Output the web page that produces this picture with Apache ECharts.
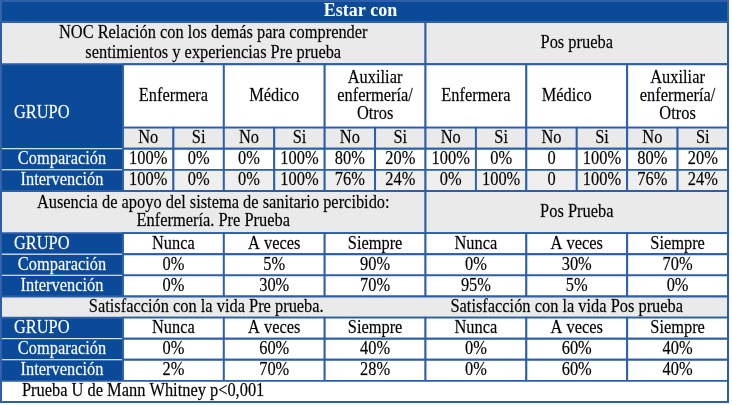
<!DOCTYPE html>
<html><head><meta charset="utf-8">
<script src="https://cdn.jsdelivr.net/npm/echarts@6/dist/echarts.min.js"></script>
<style>html,body{margin:0;padding:0;background:#fff}#c{width:732px;height:405px}</style>
</head><body><div id="c"></div>
<script>
// ---- table content ----
const title = 'Estar con';
const relPreTitle = 'NOC Relación con los demás para comprender\nsentimientos y experiencias Pre prueba';
const relPosTitle = 'Pos prueba';
const roles = ['Enfermera', 'Médico', 'Auxiliar\nenfermería/\nOtros'];
const yesNo = ['No', 'Si'];
const groups = ['Comparación', 'Intervención'];
const groupHeader = 'GRUPO';
const relPre = [['100%','0%','0%','100%','80%','20%'], ['100%','0%','0%','100%','76%','24%']];
const relPos = [['100%','0%','0','100%','80%','20%'], ['0%','100%','0','100%','76%','24%']];
const apoyoPreTitle = 'Ausencia de apoyo del sistema de sanitario percibido:\nEnfermería. Pre Prueba';
const apoyoPosTitle = 'Pos Prueba';
const frequency = ['Nunca', 'A veces', 'Siempre'];
const apoyoPre = [['0%','5%','90%'], ['0%','30%','70%']];
const apoyoPos = [['0%','30%','70%'], ['95%','5%','0%']];
const satPreTitle = 'Satisfacción con la vida Pre prueba.';
const satPosTitle = 'Satisfacción con la vida Pos prueba';
const satPre = [['0%','60%','40%'], ['2%','70%','28%']];
const satPos = [['0%','60%','40%'], ['0%','60%','40%']];
const note = 'Prueba U de Mann Whitney p<0,001';

// ---- layout (in column / row units) ----
const G = 2.42, HALF = 6, W = G + 2 * HALF, ROWS = 19;
const DARK = '#0B4A99', GRAY = '#EAEAEA', LIGHT = '#EFEFEF', WHITE = '#FFFFFF', BORDER = '#2D5EA8';
const FONT = '16.4px "Liberation Serif", "Times New Roman", serif';
const TITLE_FONT = 'bold 18px "Liberation Serif", "Times New Roman", serif';
const STRETCH = 1.14;
const cells = [];
function cell(x0, x1, y0, y1, text, opt) {
  cells.push(Object.assign({x0, x1, y0, y1, text, fill: WHITE, align: 'center', pad: 13, dy: 0, dx: 0, lh: 19}, opt || {}));
}
const dark = {fill: DARK, color: '#fff'};

cell(0, W, 0, 1, title, {fill: DARK, color: '#fff', bold: true, dx: -4});
cell(0, G + HALF, 1, 3, relPreTitle, {fill: GRAY, lh: 20});
cell(G + HALF, W, 1, 3, relPosTitle, {fill: GRAY});
cell(0, G, 3, 7, groupHeader, Object.assign({align: 'left', dy: 7}, dark));
[0, 1].forEach(h => roles.forEach((r, k) => {
  const x = G + h * HALF + 2 * k;
  cell(x, x + 2, 3, 6, r, {lh: 18, dx: (h === 1 && k === 1) ? -10 : 0});
  yesNo.forEach((a, j) => cell(x + j, x + j + 1, 6, 7, a, {fill: GRAY}));
}));
groups.forEach((g, i) => {
  const yy = 7 + i;
  cell(0, G, yy, yy + 1, g, dark);
  [relPre[i], relPos[i]].forEach((row, h) => row.forEach((v, j) => {
    const x = G + h * HALF + j;
    cell(x, x + 1, yy, yy + 1, v, {fill: i ? LIGHT : WHITE});
  }));
});

function freqBlock(y0, pre, pos) {
  cell(0, G, y0, y0 + 1, groupHeader, Object.assign({align: 'left'}, dark));
  [0, 1].forEach(h => frequency.forEach((f, j) => {
    const x = G + h * HALF + 2 * j;
    cell(x, x + 2, y0, y0 + 1, f);
  }));
  groups.forEach((g, i) => {
    const yy = y0 + 1 + i;
    cell(0, G, yy, yy + 1, g, dark);
    [pre[i], pos[i]].forEach((row, h) => row.forEach((v, j) => {
      const x = G + h * HALF + 2 * j;
      cell(x, x + 2, yy, yy + 1, v);
    }));
  });
}
cell(0, G + HALF, 9, 11, apoyoPreTitle, {fill: GRAY, lh: 18.5});
cell(G + HALF, W, 9, 11, apoyoPosTitle, {fill: GRAY});
freqBlock(11, apoyoPre, apoyoPos);
cell(0, W, 14, 15, '', {fill: GRAY});
cell(0, G + HALF, 14, 15, satPreTitle, {fill: null, dx: -7});
cell(G + HALF, W, 14, 15, satPosTitle, {fill: null, dx: -10});
freqBlock(15, satPre, satPos);
cell(0, W, 18, 19, note, {align: 'left', pad: 21});
cell(0, W, 0, ROWS, '', {fill: null, outline: true});

function rank(c) { return c.outline ? 3 : c.fill === DARK ? 0 : c.fill ? 1 : 2; }
const order = cells.map((c, i) => i).sort((a, b) => rank(cells[a]) - rank(cells[b]) || a - b);
const data = order.map(i => [cells[i].x0, cells[i].x1, cells[i].y0, cells[i].y1, i]);

const chart = echarts.init(document.getElementById('c'), null, {renderer: 'canvas'});
chart.setOption({
  animation: false,
  backgroundColor: '#fff',
  grid: {left: 1, right: 4, top: 1, bottom: 3},
  xAxis: {type: 'value', min: 0, max: W, show: false},
  yAxis: {type: 'value', min: 0, max: ROWS, inverse: true, show: false},
  series: [{
    type: 'custom',
    encode: {x: [0, 1], y: [2, 3]},
    data: data,
    renderItem: function (params, api) {
      const c = cells[api.value(4)];
      const p0 = api.coord([api.value(0), api.value(2)]);
      const p1 = api.coord([api.value(1), api.value(3)]);
      const x = p0[0], y = p0[1], w = p1[0] - p0[0], h = p1[1] - p0[1];
      const children = [];
      if (c.fill || c.outline) {
        const isDark = c.fill === DARK;
        children.push({
          type: 'rect', shape: {x: x, y: y, width: w, height: h},
          style: {fill: c.fill || 'none', stroke: isDark ? '#E6ECF5' : BORDER, lineWidth: isDark ? 1 : 1.9}
        });
      }
      if (c.text) {
        const sy = c.bold ? 1 : STRETCH;
        const col = c.color || '#000';
        children.push({
          type: 'text',
          x: (c.align === 'left' ? x + c.pad : x + w / 2) + c.dx,
          y: y + h / 2 + c.dy,
          scaleY: sy,
          style: {
            text: c.text,
            x: 0, y: 0,
            align: c.align, verticalAlign: 'middle',
            font: c.bold ? TITLE_FONT : FONT,
            lineHeight: c.lh / sy,
            fill: col,
            stroke: c.bold ? null : (c.color ? 'rgba(255,255,255,0.6)' : 'rgba(0,0,0,0.6)'),
            lineWidth: c.bold ? 0 : 0.25
          }
        });
      }
      return {type: 'group', children: children};
    }
  }]
});
</script>
</body></html>
